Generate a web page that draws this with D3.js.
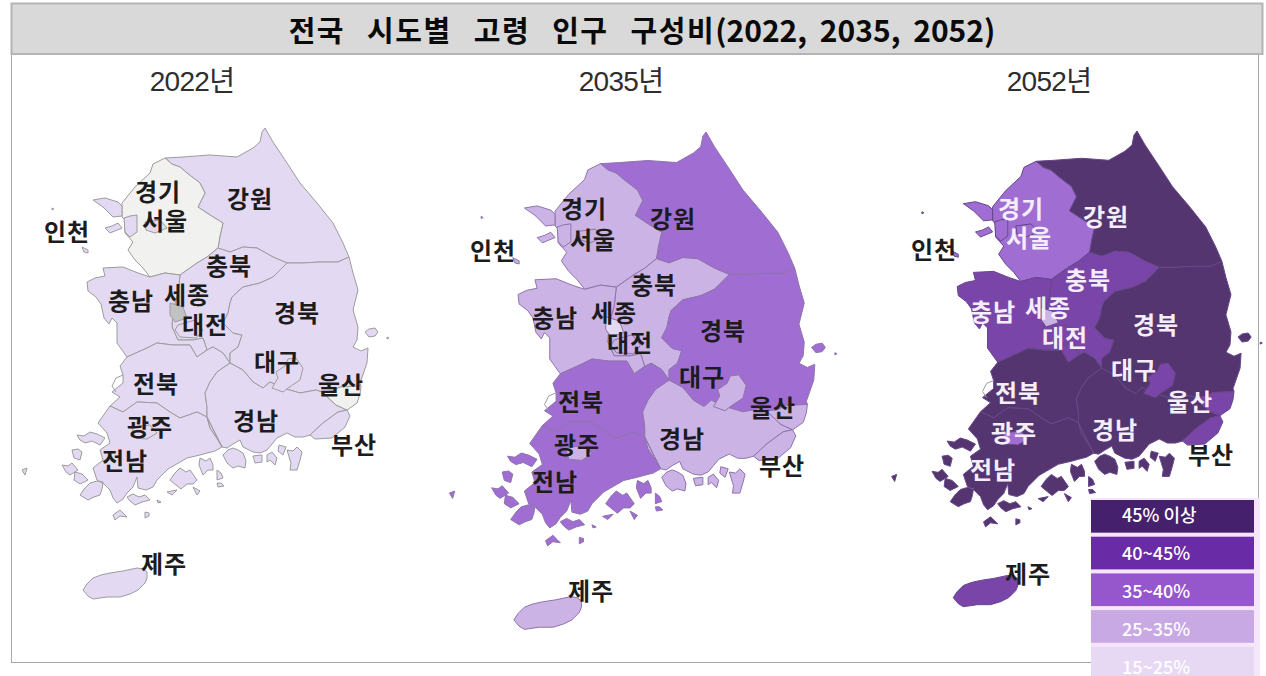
<!DOCTYPE html>
<meta charset="utf-8">
<style>
body { margin: 0; background: #fff; }
svg { display: block; }
text { font-family: "Noto Sans CJK KR", "Noto Sans", sans-serif; }
.region-label { font-size: 24px; font-weight: 700; letter-spacing: 1px; text-anchor: middle; dominant-baseline: central; }
.year { font-family: "Liberation Sans", "Noto Sans CJK KR", sans-serif; font-size: 28px; letter-spacing: -0.7px; fill: #2e2e2e; text-anchor: middle; dominant-baseline: central; }
</style>
<body></body>
<script src="https://cdnjs.cloudflare.com/ajax/libs/d3/7.8.5/d3.min.js"></script>
<script>
// values (share of 65+, estimated from the class colour)
var regionNames = ['강원','경기','충북','충남','전북','전남','경북','경남','울산','부산','제주','인천','서울','세종','대전','대구','광주'];
var share2022 = [23.8,14.6,20.4,21.0,23.9,24.9,24.4,20.5,14.4,21.5,20.0,15.9,17.9,10.9,16.4,18.3,15.9];
var share2035 = [38.0,28.0,33.0,33.0,38.0,39.5,39.5,34.5,30.0,34.5,33.0,29.0,29.0,20.0,29.0,31.0,28.0];
var share2052 = [48.0,38.6,44.0,44.0,47.0,49.0,49.0,46.0,43.0,43.6,42.0,39.0,38.0,30.0,41.0,43.9,39.0];

var years = ['2022년','2035년','2052년'];
var legendLabels = ['45% 이상','40~45%','35~40%','25~35%','15~25%'];
var legendColors = ['#45206c','#6a2ba6','#9656cc','#c9a9e4','#e7d8f3'];
var classBreaks = [12,15,25,35,40,45];
var classColors = ['#c2c2c2','#f1f1ef','#e4d9f3','#cbb3e6','#a06ed2','#7a45a8','#55356f'];

// shared boundaries, in map units
var arcs = {
  eastCoast: [[165,158],[183,157],[210,155],[237,157],[253,148],[260,142],[262,132],[265,128],[273,142],[287,163],[300,183],[317,203],[333,223],[343,243],[349,257]],
  ggGw: [[165,158],[172,164],[180,167],[187,173],[200,183],[205,193],[198,207],[210,215],[223,223],[220,236],[218,248]],
  gwCb: [[218,248],[230,252],[243,247],[257,248],[273,257],[287,263]],
  gwGb: [[287,263],[303,263],[320,262],[338,262],[349,257]],
  ggCb: [[180,275],[197,263],[207,257],[218,248]],
  ggCn: [[150,277],[165,273],[180,275]],
  ggCoast: [[165,158],[153,164],[150,173],[135,187],[122,203],[122,217],[125,220],[125,233],[133,242],[128,250],[135,260],[143,268],[150,277]],
  cnCoast: [[150,277],[138,273],[123,267],[103,268],[105,276],[95,278],[87,282],[88,291],[96,297],[101,304],[104,318],[109,324],[112,318],[117,323],[117,343],[127,357]],
  cbCn: [[180,275],[178,293],[173,310],[172,327],[178,340],[193,340],[203,338],[207,350]],
  cnJb: [[127,357],[147,348],[157,343],[173,345],[190,345],[197,357],[207,350]],
  cbJb: [[207,350],[213,347],[223,353],[230,363]],
  cbGb: [[287,263],[273,277],[260,283],[243,287],[232,297],[230,303],[228,313],[223,323],[233,333],[242,335],[238,347],[230,353],[230,363]],
  jbGn: [[230,363],[217,372],[210,382],[205,393],[207,407],[207,417]],
  jbJn: [[207,417],[197,412],[180,418],[170,412],[157,403],[137,402],[123,412],[110,406]],
  jbCoast: [[110,406],[120,397],[112,392],[123,383],[123,375],[120,366],[127,357]],
  jnCoast: [[110,406],[98,423],[107,433],[110,443],[100,450],[103,460],[93,468],[97,480],[104,484],[110,490],[113,498],[117,503],[123,499],[127,493],[133,487],[137,477],[138,488],[146,490],[153,487],[157,480],[160,477],[168,469],[175,465],[187,458],[200,455],[207,453],[215,451],[222,447]],
  jnGn: [[222,447],[218,440],[210,428],[207,417]],
  gbGn: [[230,363],[243,370],[253,382],[263,388],[270,382],[283,388],[300,393],[316,390],[322,392]],
  gbUs: [[322,392],[333,391],[340,387],[361,386]],
  gbCoast: [[349,257],[353,273],[358,290],[353,310],[358,327],[357,340],[353,347],[361,351],[368,348],[367,363],[360,383],[361,386]],
  usCoast: [[361,386],[360,394],[357,403],[347,410]],
  usGn: [[322,392],[336,405],[347,410]],
  gnBs: [[347,410],[338,412],[323,423],[310,435]],
  bsCoast: [[347,410],[350,416],[345,427],[332,438],[315,439],[310,435]],
  gnCoast: [[222,447],[227,448],[233,444],[240,440],[243,447],[253,452],[260,453],[267,450],[272,444],[277,438],[287,433],[295,437],[303,437],[310,435]]
};

function a(name) { return arcs[name]; }
function r(name) { return arcs[name].slice().reverse(); }
function ring() {
  var pts = d3.merge(Array.from(arguments));
  pts.push(pts[0]);
  return pts;
}
function blob(pts) { return pts.concat([pts[0]]); }

var regionRings = {
  '강원': [ring(a('eastCoast'), r('gwGb'), r('gwCb'), r('ggGw'))],
  '경기': [ring(a('ggGw'), r('ggCb'), r('ggCn'), r('ggCoast'))],
  '충북': [ring(a('ggCb'), a('gwCb'), a('cbGb'), r('cbJb'), r('cbCn'))],
  '충남': [ring(a('ggCn'), a('cbCn'), r('cnJb'), r('cnCoast'))],
  '전북': [ring(a('cnJb'), a('cbJb'), a('jbGn'), a('jbJn'), a('jbCoast'))],
  '전남': [ring(a('jnCoast'), a('jnGn'), a('jbJn')),
    blob([[170,480],[175,473],[180,468],[186,472],[190,470],[197,480],[193,484],[187,484],[181,489],[176,485]]),
    blob([[200,458],[206,461],[210,458],[213,465],[213,470],[208,470],[203,475],[199,465]]),
    blob([[217,470],[221,473],[223,478],[217,480]]),
    blob([[217,483],[221,483],[224,486],[218,487]]),
    blob([[127,497],[133,494],[139,497],[145,495],[150,500],[142,502],[135,505],[130,501]]),
    blob([[80,495],[85,488],[90,483],[97,481],[103,482],[102,489],[100,495],[94,497],[88,500]]),
    blob([[22,470],[27,468],[25,475]]),
    blob([[77,435],[84,436],[90,432],[97,434],[105,438],[100,445],[92,441],[85,443],[80,440]]),
    blob([[72,450],[78,449],[82,452],[80,460],[74,458]]),
    blob([[62,465],[68,466],[72,463],[78,470],[70,475],[66,472]]),
    blob([[75,472],[82,474],[88,480],[80,484],[74,480]]),
    blob([[113,515],[120,510],[124,514],[127,517],[120,516],[115,520]]),
    blob([[145,512],[149,513],[149,516],[145,518]]),
    blob([[157,500],[161,502],[158,503]]),
    blob([[167,492],[177,490],[172,495]]),
    blob([[193,487],[200,491],[197,495]])],
  '경북': [ring(a('gwGb'), a('gbCoast'), r('gbUs'), r('gbGn'), r('cbGb')),
    blob([[365,332],[369,329],[375,328],[378,332],[375,336],[369,337]]),
    blob([[387,337],[389,338],[387,339]])],
  '경남': [ring(a('gbGn'), a('usGn'), a('gnBs'), r('gnCoast'), r('jnGn'), r('jbGn')),
    blob([[223,455],[228,450],[233,448],[238,450],[243,453],[246,461],[245,468],[238,466],[233,468],[227,463]]),
    blob([[267,455],[272,452],[277,458],[275,465],[270,460],[267,462]]),
    blob([[253,456],[262,455],[262,462],[255,463]]),
    blob([[279,445],[286,447],[283,455],[278,451]]),
    blob([[287,450],[293,451],[297,447],[302,452],[300,460],[297,470],[290,470],[291,463],[290,460]])],
  '울산': [ring(a('gbUs'), a('usCoast'), r('usGn'))],
  '부산': [ring(a('bsCoast'), r('gnBs'))],
  '제주': [blob([[83,590],[87,584],[93,578],[101,575],[110,573],[123,571],[137,568],[143,569],[147,572],[147,578],[145,583],[138,590],[130,594],[120,597],[107,597],[93,599],[88,596]])],
  '인천': [blob([[124,218],[130,216],[137,215],[137,232],[130,237],[125,232]]),
    blob([[93,200],[105,198],[118,202],[122,206],[122,216],[113,217],[103,207]]),
    blob([[105,228],[112,226],[118,223],[122,228],[110,233]]),
    blob([[82,247],[88,250],[88,253],[84,252]]),
    blob([[52,208],[54,209],[52,210]])],
  '서울': [blob([[145,222],[160,220],[167,228],[155,233],[146,230]])],
  '세종': [blob([[170,303],[183,307],[187,318],[175,322],[170,315]])],
  '대전': [blob([[178,325],[195,320],[203,330],[196,338],[180,337],[175,330]])],
  '대구': [blob([[296,358],[303,368],[300,380],[288,388],[283,392],[272,388],[278,378],[276,372],[285,366],[288,359]])],
  '광주': [blob([[132,427],[150,425],[157,433],[147,439],[135,438]])]
};

var features = regionNames.map(function(name, i) {
  return {
    type: 'Feature',
    properties: { name: name, shares: [share2022[i], share2035[i], share2052[i]] },
    geometry: { type: 'MultiPolygon', coordinates: regionRings[name].map(function(rg) { return [rg]; }) }
  };
});
var saemangeum = { type: 'LineString', coordinates: [[123,375],[116,378],[112,386],[116,392]] };

var labels2022 = [['경기',158,190],['강원',250,197],['서울',165,219],['인천',67,230],['충북',229,264],['세종',187,293],['충남',131,299],['대전',205,323],['경북',297,311],['대구',277,360],['전북',156,382],['울산',341,383],['경남',256,419],['광주',150,425],['부산',354,443],['전남',125,459],['제주',164,562]];
var labels2035 = [['경기',584,207],['강원',673,217],['서울',593,238],['인천',493,249],['충북',654,283],['세종',614,311],['충남',555,316],['대전',630,341],['경북',723,329],['대구',702,375],['전북',581,400],['울산',773,406],['경남',682,437],['광주',577,443],['부산',782,464],['전남',555,480],['제주',591,589]];
var labels2052 = [['경기',1021,207],['강원',1106,215],['서울',1029,236],['인천',934,248],['충북',1088,278],['세종',1048,306],['충남',993,310],['대전',1065,336],['경북',1156,323],['대구',1134,368],['전북',1018,391],['울산',1190,400],['경남',1115,428],['광주',1014,431],['부산',1211,453],['전남',993,468],['제주',1028,572]];

var panels = [
  { k: 1,     tx: 0,     ty: 0,    stroke: '#9c9c9c', labels: labels2022, yearX: 192, dark: [] },
  { k: 1.056, tx: 426.2, ty: -3.2, stroke: '#8d74ab', labels: labels2035, yearX: 621, dark: [] },
  { k: 1.01,  tx: 869.4, ty: 1.7,  stroke: '#65478a', labels: labels2052, yearX: 1049, dark: ['인천','부산','제주'] }
];

var color = d3.scaleThreshold().domain(classBreaks).range(classColors);

var svg = d3.select('body').append('svg')
    .attr('width', 1266)
    .attr('height', 676);

// frame and title bar
svg.append('rect')
    .attr('x', 11.5).attr('y', 54.5)
    .attr('width', 1247).attr('height', 608)
    .attr('fill', '#fff').attr('stroke', '#a8a8a8');
svg.append('rect')
    .attr('x', 11.5).attr('y', 3.5)
    .attr('width', 1251).attr('height', 50.5)
    .attr('fill', '#d9d9d9').attr('stroke', '#b4b4b4').attr('stroke-width', 2);
var title = svg.append('text')
    .attr('x', 642).attr('y', 29)
    .attr('text-anchor', 'middle').attr('dominant-baseline', 'central')
    .attr('font-weight', 700).attr('fill', '#0a0a0a');
title.append('tspan')
    .attr('font-size', 29)
    .style('letter-spacing', '1.5px').style('word-spacing', '14px')
    .text('전국 시도별 고령 인구 구성비');
title.append('tspan')
    .attr('font-size', 30)
    .style('word-spacing', '6px')
    .text('(2022, 2035, 2052)');

panels.forEach(function(p, i) {
  var path = d3.geoPath(d3.geoIdentity().scale(p.k).translate([p.tx, p.ty]));
  var g = svg.append('g');

  g.append('text').attr('class', 'year')
      .attr('x', p.yearX).attr('y', 81)
      .text(years[i]);

  g.selectAll('path.region')
    .data(features)
    .enter().append('path')
      .attr('class', 'region')
      .attr('d', path)
      .attr('fill', function(d) { return color(d.properties.shares[i]); })
      .attr('stroke', p.stroke)
      .attr('stroke-width', 1)
      .attr('stroke-linejoin', 'round');

  g.append('path')
      .attr('d', path(saemangeum))
      .attr('fill', 'none')
      .attr('stroke', '#9c9c9c');

  g.selectAll('text.region-label')
    .data(p.labels)
    .enter().append('text')
      .attr('class', 'region-label')
      .attr('x', function(d) { return d[1]; })
      .attr('y', function(d) { return d[2]; })
      .attr('fill', function(d) {
        return (i == 2 && p.dark.indexOf(d[0]) < 0) ? '#f4eefa' : '#1c1c1c';
      })
      .text(function(d) { return d[0]; });
});

// legend sits over the frame, last row runs off the bottom
var legendY = d3.scaleBand()
    .domain(legendLabels)
    .range([500, 679.5])
    .paddingInner(0.11);
var legendTextY = d3.scalePoint()
    .domain(legendLabels)
    .range([514, 666]);

svg.append('rect')
    .attr('x', 1091).attr('y', 498)
    .attr('width', 169).attr('height', 178)
    .attr('fill', '#f6e6fb');

var legend = svg.selectAll('g.legend')
    .data(legendLabels)
    .enter().append('g')
    .attr('class', 'legend');

legend.append('rect')
    .attr('x', 1091)
    .attr('y', function(d) { return legendY(d); })
    .attr('width', 163)
    .attr('height', legendY.bandwidth())
    .attr('fill', function(d, i) { return legendColors[i]; });

legend.append('text')
    .attr('x', 1122)
    .attr('y', function(d) { return legendTextY(d); })
    .attr('dominant-baseline', 'central')
    .attr('font-size', 18)
    .attr('font-weight', 500)
    .attr('fill', '#fff')
    .text(function(d) { return d; });
</script>
